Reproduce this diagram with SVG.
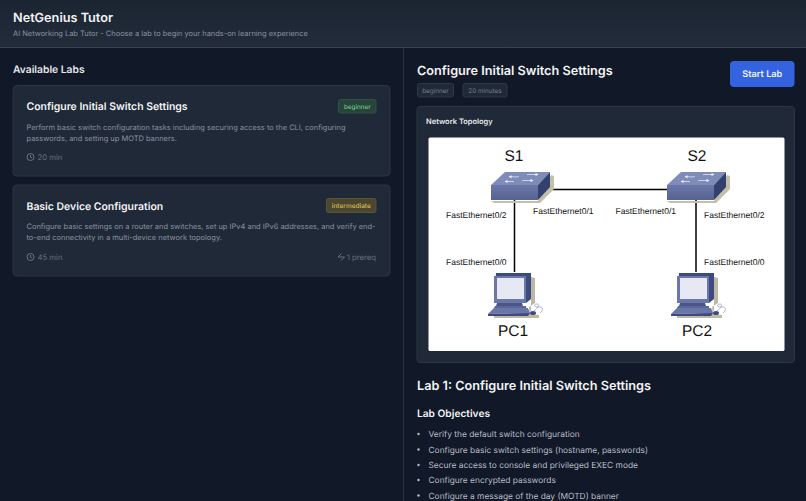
<svg xmlns="http://www.w3.org/2000/svg" width="806" height="501" viewBox="0 0 806 501">
<style>
text{font-family:Inter,"Liberation Sans",sans-serif;text-rendering:geometricPrecision}
.card{fill:#1f2937;stroke:#2b3544;stroke-width:1}
.h3{font-size:10.45px;font-weight:600;fill:#f3f4f6}
.desc{font-size:7.47px;fill:#8a92a0}
.meta{font-size:7.7px;fill:#6b7280}
.ic{fill:none;stroke:#6b7280;stroke-width:1}
.chip{fill:#1f2937;stroke:#2e3847}
.chipt{font-size:6.35px;fill:#77808d}
.li{font-size:8.38px;fill:#b8bec8}
.dot{fill:#b8bec8}
.lab{font-family:"Liberation Sans",sans-serif;font-size:8.5px;fill:#111}
.name{font-family:"Liberation Sans",sans-serif;font-size:15.5px;fill:#111}
.wire{stroke:#000;stroke-width:1.5;fill:none}
</style>
<defs>
<linearGradient id="hd" x1="0" y1="0" x2="0" y2="1"><stop offset="0" stop-color="#1b2431"/><stop offset="1" stop-color="#232c3a"/></linearGradient>
<linearGradient id="front" x1="0" y1="0" x2="0" y2="1"><stop offset="0" stop-color="#6b77a8"/><stop offset="1" stop-color="#56628f"/></linearGradient>
<symbol id="sw" overflow="visible">
<path d="M47 29 L60 3 L63 4 L63 17 L49 31 L3 31 L0 29Z" fill="#c4bfa9"/>
<path d="M14 0 L59 0 L47 13 L0 13Z" fill="#7f8bb8"/>
<path d="M47 13 L59 0 L59 15 L47 28Z" fill="#33406f"/>
<rect x="0" y="13" width="47" height="15" fill="url(#front)"/>
<path d="M20 4.800 L28 4.800 M36 2.500 L45 2.500 M16 9.500 L23 9.500 M31 8.500 L40 8.500" stroke="#dfe3f0" stroke-width=".8"/>
<path d="M17.500 4.800 l3 -1.500 v3Z M47.500 2.500 l-3 -1.500 v3Z M13.500 9.500 l3 -1.500 v3Z M42.500 8.500 l-3 -1.500 v3Z" fill="#f4f5fa"/>
</symbol>
<symbol id="pc" overflow="visible">
<path d="M43 4 L47 5 L47 30 L41 34 L42 41 L51 42 L51 45 L6 45 L6 43 L43 38Z" fill="#bdb8a4"/>
<path d="M8 0 L43 0 L43 26 L38 30 L6 30Z" fill="#3c4a7e"/>
<path d="M6 3 L38 3 L38 30 L6 30Z" fill="#6b77a8"/>
<rect x="9" y="5" width="27" height="21" fill="#e6e9f4"/>
<path d="M9 30 L34 30 L35 33 L8 33Z" fill="#4a5688"/>
<path d="M7 33 L38 33 L38 35 L6 35Z" fill="#5b679a"/>
<path d="M6 35 L40 35 L42 40 L0 41Z" fill="#6a76a8"/>
<path d="M0 41 L42 40 L40 43 L0 43Z" fill="#3c4a7e"/>
<ellipse cx="45" cy="40" rx="3" ry="2" fill="#3c4a7e"/>
<path d="M46 38 C50 35 52 31 49 31 C46 31 45 34 50 34 C55 33 56 37 52 40" fill="none" stroke="#9aa2c4" stroke-width=".8"/>
</symbol>
</defs>
<rect width="806" height="501" fill="#111827"/>
<g id="header">
<rect width="806" height="47" fill="url(#hd)"/>
<rect y="47" width="806" height="1" fill="#374151"/>
<text x="13" y="21.500" font-size="12.700" font-weight="600" fill="#f3f4f6">NetGenius Tutor</text>
<text x="13" y="36" font-size="7.450" fill="#8b93a1">AI Networking Lab Tutor - Choose a lab to begin your hands-on learning experience</text>
</g>
<rect x="403" y="48" width="1" height="453" fill="#2b3544"/>
<text x="13" y="72.500" font-size="10.300" font-weight="600" fill="#e5e7eb">Available Labs</text>
<g id="lab-card-1">
<rect class="card" x="13" y="85.500" width="377" height="90.500" rx="4"/>
<text class="h3" x="26.500" y="110">Configure Initial Switch Settings</text>
<rect x="338.500" y="99.500" width="37.500" height="13.500" rx="2" fill="#27433a" stroke="#2f5242"/>
<text x="357.300" y="108.500" font-size="6.300" font-weight="500" text-anchor="middle" fill="#6fc58f">beginner</text>
<text class="desc" x="26.500" y="129.500">Perform basic switch configuration tasks including securing access to the CLI, configuring</text>
<text class="desc" x="26.500" y="140.500">passwords, and setting up MOTD banners.</text>
<circle class="ic" cx="30.500" cy="157" r="3.500"/><path class="ic" d="M30.500 155v2.200l1.500 .8"/>
<text class="meta" x="37.500" y="159.800">20 min</text>
</g>
<g id="lab-card-2">
<rect class="card" x="13" y="185" width="377" height="91" rx="4"/>
<text class="h3" x="26.500" y="210">Basic Device Configuration</text>
<rect x="326.500" y="198.500" width="49.500" height="14" rx="2" fill="#4a4630" stroke="#5a5434"/>
<text x="351.300" y="208" font-size="6.500" font-weight="500" text-anchor="middle" fill="#d9bf4e">intermediate</text>
<text class="desc" x="26.500" y="229">Configure basic settings on a router and switches, set up IPv4 and IPv6 addresses, and verify end-</text>
<text class="desc" x="26.500" y="240">to-end connectivity in a multi-device network topology.</text>
<circle class="ic" cx="30.500" cy="257" r="3.500"/><path class="ic" d="M30.500 255v2.200l1.500 .8"/>
<text class="meta" x="37.500" y="259.800">45 min</text>
<path class="ic" d="M341.500 253.500 L338 257 L344.500 257 L341 260.500"/>
<text class="meta" x="376" y="259.800" text-anchor="end">1 prereq</text>
</g>
<g id="detail-head">
<text x="417" y="74.500" font-size="12.700" font-weight="600" fill="#f3f4f6">Configure Initial Switch Settings</text>
<rect class="chip" x="417.500" y="83.500" width="36" height="13.500" rx="2"/>
<text class="chipt" x="435.500" y="92.500" text-anchor="middle">beginner</text>
<rect class="chip" x="463" y="83.500" width="44" height="13.500" rx="2"/>
<text class="chipt" x="485" y="92.500" text-anchor="middle">20 minutes</text>
</g>
<g id="start-lab">
<rect x="730" y="61" width="64.500" height="26" rx="4" fill="#3563e0"/>
<text x="762.300" y="77.300" font-size="9.200" font-weight="600" text-anchor="middle" fill="#eef2ff">Start Lab</text>
</g>
<rect class="card" x="417" y="106.500" width="377.500" height="256" rx="3"/>
<text x="426" y="123.500" font-size="7.500" font-weight="600" fill="#e5e7eb">Network Topology</text>
<rect x="428.500" y="137.500" width="356" height="213.500" rx="1.500" fill="#fff"/>
<g id="connectors">
<path class="wire" d="M538 189.500 H667"/>
<path class="wire" d="M514.500 200 V272"/>
<path class="wire" d="M696 200 V272"/>
</g>
<g id="S1">
<use href="#sw" x="491" y="172"/>
<text class="name" x="514" y="161" text-anchor="middle">S1</text>
<text class="lab" x="446" y="218">FastEthernet0/2</text>
<text class="lab" x="533" y="214">FastEthernet0/1</text>
</g>
<g id="S2">
<use href="#sw" x="667" y="172"/>
<text class="name" x="697" y="161" text-anchor="middle">S2</text>
<text class="lab" x="615.500" y="214">FastEthernet0/1</text>
<text class="lab" x="704" y="218">FastEthernet0/2</text>
</g>
<g id="PC1">
<use href="#pc" x="488" y="273"/>
<text class="name" x="513" y="335.500" text-anchor="middle">PC1</text>
<text class="lab" x="446" y="265">FastEthernet0/0</text>
</g>
<g id="PC2">
<use href="#pc" x="671" y="273"/>
<text class="name" x="697" y="335.500" text-anchor="middle">PC2</text>
<text class="lab" x="704" y="265">FastEthernet0/0</text>
</g>
<g id="content">
<text x="417" y="390" font-size="12.700" font-weight="600" fill="#f3f4f6">Lab 1: Configure Initial Switch Settings</text>
<text x="417" y="416.500" font-size="10.200" font-weight="600" fill="#f3f4f6">Lab Objectives</text>
<circle class="dot" cx="418.500" cy="434" r="1.200"/><text class="li" x="428.500" y="437">Verify the default switch configuration</text>
<circle class="dot" cx="418.500" cy="449.500" r="1.200"/><text class="li" x="428.500" y="452.500">Configure basic switch settings (hostname, passwords)</text>
<circle class="dot" cx="418.500" cy="465" r="1.200"/><text class="li" x="428.500" y="468">Secure access to console and privileged EXEC mode</text>
<circle class="dot" cx="418.500" cy="480" r="1.200"/><text class="li" x="428.500" y="483">Configure encrypted passwords</text>
<circle class="dot" cx="418.500" cy="495.500" r="1.200"/><text class="li" x="428.500" y="498.500">Configure a message of the day (MOTD) banner</text>
</g>
</svg>
